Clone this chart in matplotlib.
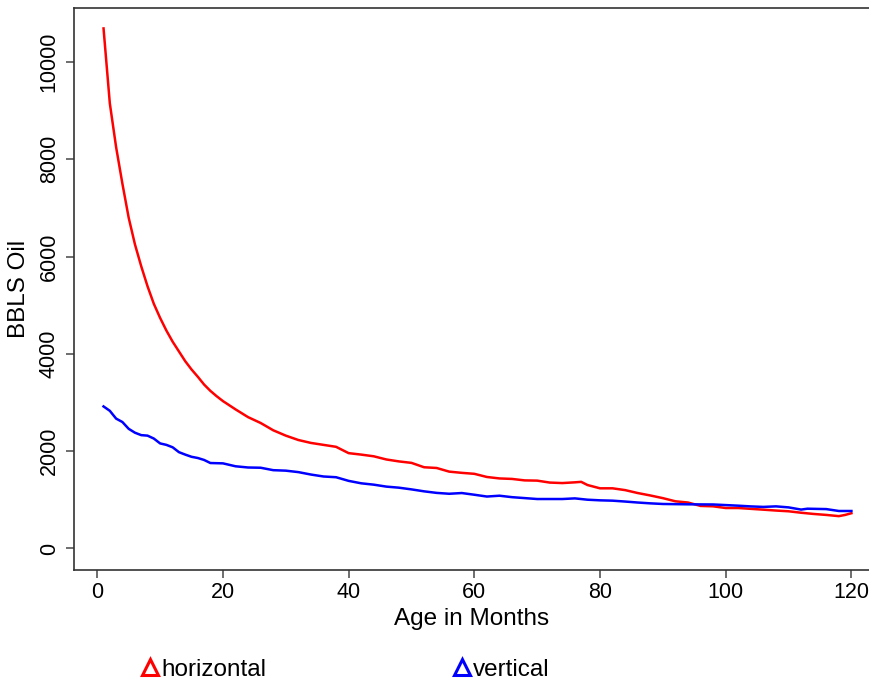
import matplotlib.pyplot as plt
from matplotlib.lines import Line2D

plt.rcParams['font.family'] = ['Liberation Sans', 'DejaVu Sans']

horiz_month = [1, 2, 3, 4, 5, 6, 7, 8, 9, 10, 11, 12, 13, 14, 15, 16, 17, 18, 19,
               20, 22, 24, 26, 28, 30, 32, 34, 36, 38, 40, 42, 44, 46, 48, 50, 52, 54,
               56, 58, 60, 62, 64, 66, 68, 70, 72, 74, 76, 77, 78, 80, 82, 84, 86, 88,
               90, 92, 94, 96, 98, 100, 102, 104, 106, 108, 110, 112, 114, 116, 118,
               119, 120]
horiz_bbls = [10690, 9150, 8250, 7500, 6800, 6250, 5800, 5390, 5030, 4740, 4480,
              4250, 4050, 3850, 3680, 3530, 3370, 3240, 3130, 3030, 2860, 2700, 2580,
              2430, 2320, 2230, 2170, 2130, 2090, 1960, 1930, 1895, 1830, 1790, 1760,
              1670, 1655, 1580, 1555, 1535, 1470, 1440, 1430, 1400, 1395, 1355, 1345,
              1360, 1370, 1305, 1237, 1237, 1200, 1140, 1090, 1035, 970, 945, 875, 867,
              832, 832, 815, 798, 780, 765, 735, 710, 690, 665, 690, 725]

vert_month = [1, 2, 3, 4, 5, 6, 7, 8, 9, 10, 11, 12, 13, 14, 15, 16, 17, 18, 20, 22,
              24, 26, 28, 30, 32, 34, 36, 38, 40, 42, 44, 46, 48, 50, 52, 54, 56, 58,
              60, 62, 64, 66, 68, 70, 72, 74, 76, 78, 80, 82, 84, 86, 88, 90, 94, 98,
              102, 104, 106, 108, 110, 112, 113, 116, 118, 120]
vert_bbls = [2920, 2830, 2670, 2600, 2460, 2380, 2330, 2320, 2260, 2160, 2130, 2080,
             1980, 1930, 1885, 1860, 1820, 1757, 1750, 1690, 1665, 1660, 1610, 1600,
             1570, 1520, 1480, 1465, 1390, 1340, 1312, 1272, 1250, 1215, 1175, 1143,
             1125, 1140, 1105, 1068, 1085, 1055, 1036, 1017, 1017, 1017, 1030, 1003,
             990, 983, 965, 945, 928, 915, 908, 905, 880, 865, 855, 866, 845, 800, 818,
             810, 771, 771]

x_ticks = [0, 20, 40, 60, 80, 100, 120]
y_ticks = [0, 2000, 4000, 6000, 8000, 10000]

fig = plt.figure(figsize=(8.69, 6.84), dpi=100)
ax = fig.add_axes([74 / 869, 114 / 684, 795 / 869, 562 / 684])

ax.plot(horiz_month, horiz_bbls, color='#ff0000', lw=1.8)
ax.plot(vert_month, vert_bbls, color='#0000ff', lw=1.8)

ax.set_xlim(-3.7, 122.8)
ax.set_ylim(-442, 11110)
ax.set_xticks(x_ticks)
ax.set_yticks(y_ticks)
ax.set_yticklabels([str(v) for v in y_ticks], rotation=90, va='center')
ax.tick_params(labelsize=15.5, length=5.8, width=1.2, color='#555555')
ax.tick_params(axis='x', pad=2.5)
ax.tick_params(axis='y', pad=4.5)
for side in ['left', 'bottom', 'top']:
    ax.spines[side].set_color('#333333')
    ax.spines[side].set_linewidth(1.2)
ax.spines['right'].set_visible(False)

ax.set_xlabel('Age in Months', fontsize=17.5, labelpad=4)
ax.set_ylabel('BBLS Oil', fontsize=17.5, labelpad=6)

handles = [Line2D([], [], ls='none', marker='^', mfc='none', mec='#ff0000', ms=11, mew=2.2),
           Line2D([], [], ls='none', marker='^', mfc='none', mec='#0000ff', ms=11, mew=2.2)]
fig.legend(handles, ['horizontal', 'vertical'], ncol=2, frameon=False, fontsize=17.5,
           loc='lower left', bbox_to_anchor=(143 / 869, 0.005), borderpad=0,
           borderaxespad=0, handlelength=0.6, handletextpad=0.15, columnspacing=7.77)

fig.savefig('out.png', dpi=100)
